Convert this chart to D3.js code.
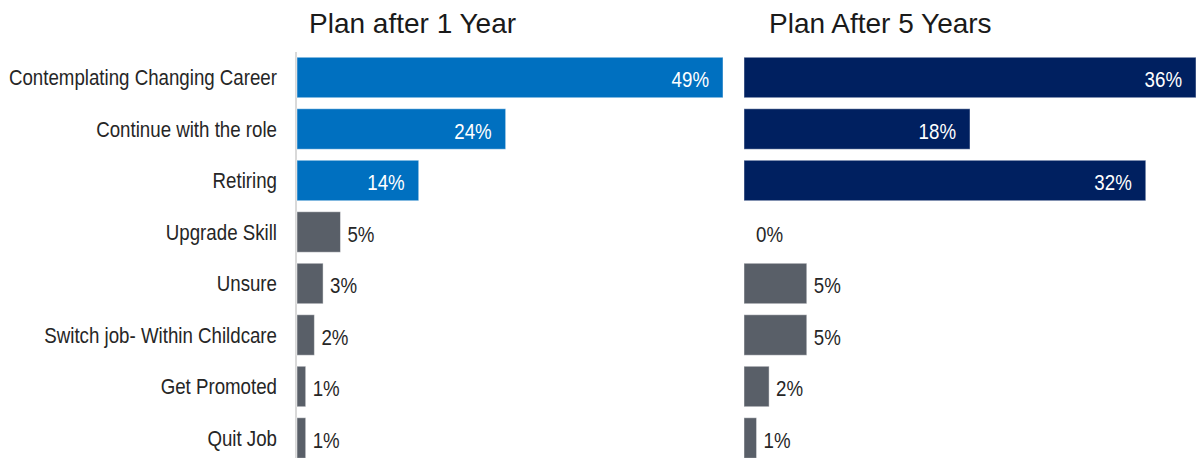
<!DOCTYPE html>
<html>
<head>
<meta charset="utf-8">
<script src="https://cdn.jsdelivr.net/npm/d3@7"></script>
<style>
  html, body { margin: 0; padding: 0; background: #ffffff; }
  svg { display: block; }
  text { font-family: "Liberation Sans", Arial, sans-serif; }
</style>
</head>
<body>
<svg id="chart" width="1198" height="458"></svg>
<script>
// Survey answers: what respondents plan to do after one year and after five years.
const categories = [
  "Contemplating Changing Career",
  "Continue with the role",
  "Retiring",
  "Upgrade Skill",
  "Unsure",
  "Switch job- Within Childcare",
  "Get Promoted",
  "Quit Job"
];
const planAfter1Year = [49, 24, 14, 5, 3, 2, 1, 1];
const planAfter5Years = [36, 18, 32, 0, 5, 5, 2, 1];
const panelTitles = ["Plan after 1 Year", "Plan After 5 Years"];
const highlightCount = 3; // first three answers get the panel colour

const W = 1198, H = 458;
const svg = d3.select("#chart");

const y = d3.scaleBand()
  .domain(categories)
  .range([51.75, 51.75 + 51.5 * categories.length])
  .paddingInner(0.214)
  .paddingOuter(0.107);

const panels = [
  { title: panelTitles[0], values: planAfter1Year, color: "#0070c0",
    x: d3.scaleLinear().domain([0, 49]).range([297, 723]), titleX: 309, axisLine: true },
  { title: panelTitles[1], values: planAfter5Years, color: "#002060",
    x: d3.scaleLinear().domain([0, 36]).range([744, 1196]), titleX: 769, axisLine: false }
];
const grey = "#595f68";
const labelSize = 22;
const narrow = 0.85; // condensed look for the row and value labels

// place a text at (x, y), squeezed horizontally
const place = (x, yy) => `translate(${x},${yy}) scale(${narrow},1)`;

// category labels to the left of the first panel
svg.append("g")
  .selectAll("text")
  .data(categories)
  .join("text")
  .attr("transform", d => place(277, y(d) + y.bandwidth() / 2))
  .attr("dy", "0.36em")
  .attr("text-anchor", "end")
  .attr("font-size", labelSize)
  .attr("fill", "#262626")
  .text(d => d);

panels.forEach(p => {
  const g = svg.append("g");
  const rows = categories.map((c, i) => ({ cat: c, v: p.values[i], i }));

  g.append("text")
    .attr("x", p.titleX)
    .attr("y", 33)
    .attr("font-size", 28)
    .attr("fill", "#1a1a1a")
    .text(p.title);

  if (p.axisLine) {
    g.append("line")
      .attr("x1", p.x(0) - 1).attr("x2", p.x(0) - 1)
      .attr("y1", 52).attr("y2", H)
      .attr("stroke", "#d9d9d9")
      .attr("stroke-width", 2);
  }

  g.selectAll("rect")
    .data(rows)
    .join("rect")
    .attr("x", p.x(0))
    .attr("y", d => y(d.cat))
    .attr("width", d => p.x(d.v) - p.x(0))
    .attr("height", y.bandwidth())
    .attr("fill", d => d.i < highlightCount ? p.color : grey)
    .attr("stroke", "#ffffff")
    .attr("stroke-opacity", 0.45)
    .attr("stroke-width", 1);

  g.selectAll("text.value")
    .data(rows)
    .join("text")
    .attr("class", "value")
    .attr("transform", d => place(
      d.i < highlightCount ? p.x(d.v) - 14 : p.x(d.v) + (d.v === 0 ? 12 : 7),
      y(d.cat) + y.bandwidth() / 2))
    .attr("dy", "0.45em")
    .attr("text-anchor", d => d.i < highlightCount ? "end" : "start")
    .attr("font-size", labelSize)
    .attr("fill", d => d.i < highlightCount ? "#ffffff" : "#262626")
    .text(d => d.v + "%");
});
</script>
</body>
</html>
